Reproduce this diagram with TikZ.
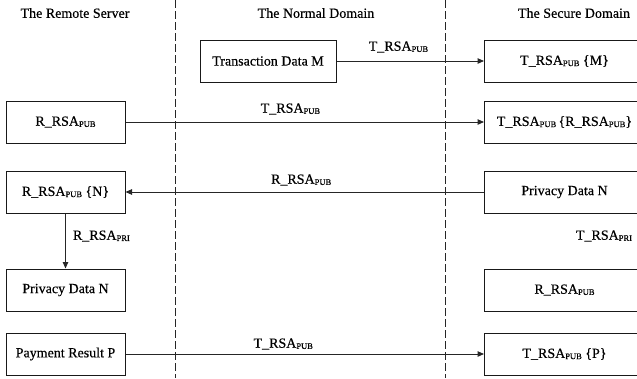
\documentclass[tikz,border=0pt]{standalone}
\usepackage{fontspec}
\setmainfont{Liberation Serif}[FakeBold=0.4]
\usetikzlibrary{arrows.meta}
\newcommand\sbx[1]{\raisebox{-1.2pt}{\fontsize{8.5}{8.5}\selectfont #1}}
\begin{document}
\begin{tikzpicture}[x=1pt,y=-1pt,
  box/.style={draw=black!90, line width=1pt, minimum height=42pt, inner sep=0pt, font=\fontsize{14}{16}\selectfont},
  lbox/.style={box, minimum width=119pt},
  rbox/.style={box, minimum width=160pt, anchor=west},
  lbl/.style={font=\fontsize{14}{16}\selectfont, inner sep=0pt},
  conn/.style={draw=black!85, line width=1pt, -{Triangle[length=6.5pt,width=5.5pt]}},
  sep/.style={draw=black!85, line width=0.9pt, dash pattern=on 8pt off 3pt}]
\clip (0,0) rectangle (637,378);
% headers
\node[lbl] (h1) at (75,13) {The Remote Server};
\node[lbl] (h2) at (316,13) {The Normal Domain};
\node[lbl] (h3) at (574,13) {The Secure Domain};
% separators
\coordinate (s1t) at (175,0); \coordinate (s1b) at (175,378);
\coordinate (s2t) at (445,0); \coordinate (s2b) at (445,378);
\draw[sep] (s1t) -- (s1b);
\draw[sep] (s2t) -- (s2b);
% boxes
\node[box, minimum width=136pt] (tm) at (268,61) {Transaction Data M};
\node[rbox] (r1) at (484,61) {T\_RSA\sbx{PUB} \{M\}};
\node[lbox] (l2) at (65.5,122) {R\_RSA\sbx{PUB}};
\node[rbox] (r2) at (484,122) {T\_RSA\sbx{PUB}\,\{R\_RSA\sbx{PUB}\}};
\node[lbox] (l3) at (65.5,192) {R\_RSA\sbx{PUB} \{N\}};
\node[rbox] (r3) at (484,192) {Privacy Data N};
\node[lbox] (l4) at (65.5,290) {Privacy Data N};
\node[rbox] (r4) at (484,290) {R\_RSA\sbx{PUB}};
\node[lbox] (l5) at (65.5,354) {Payment Result P};
\node[rbox] (r5) at (484,354) {T\_RSA\sbx{PUB} \{P\}};
% connectors
\draw[conn] (tm.east) -- node[lbl, pos=0.42, yshift=14pt] {T\_RSA\sbx{PUB}} (r1.west);
\draw[conn] (l2.east) -- node[lbl, pos=0.46, yshift=13pt] {T\_RSA\sbx{PUB}} (r2.west);
\draw[conn] (r3.west) -- node[lbl, pos=0.51, yshift=12pt] {R\_RSA\sbx{PUB}} (l3.east);
\draw[conn] (l3.south) -- node[lbl, pos=0.41, anchor=west, xshift=7pt] {R\_RSA\sbx{PRI}} (l4.north);
\draw[conn] (l5.east) -- node[lbl, pos=0.44, yshift=10pt] {T\_RSA\sbx{PUB}} (r5.west);
\node[lbl] (tpri) at (604,236) {T\_RSA\sbx{PRI}};
\end{tikzpicture}
\end{document}
